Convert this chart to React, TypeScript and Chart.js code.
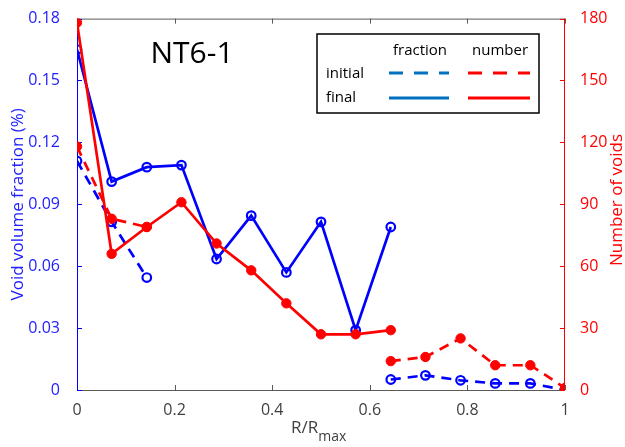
import React, { useEffect, useRef } from "react";
import { Chart, registerables } from "chart.js";

Chart.register(...registerables);

// R/Rmax positions
const rPos = [0, 0.071, 0.143, 0.214, 0.286, 0.357, 0.429, 0.5, 0.571, 0.643, 0.714, 0.786, 0.857, 0.929, 1];

// Void volume fraction (%)
const fractionFinal = [0.165, 0.101, 0.108, 0.109, 0.0635, 0.0845, 0.057, 0.0815, 0.029, 0.079, null, null, null, null, null];
const fractionInitial = [0.111, 0.0815, 0.0545, null, null, null, null, null, null, 0.0051, 0.0071, 0.0047, 0.0032, 0.0032, 0.0];

// Number of voids
const numberFinal = [178, 66, 79, 91, 71, 58, 42, 27, 27, 29, null, null, null, null, null];
const numberInitial = [118, 83, 79, null, null, null, null, null, null, 14, 16, 25, 12, 12, 1];

// Tick values
const xTicks = [0, 0.2, 0.4, 0.6, 0.8, 1];
const fractionTicks = [0, 0.03, 0.06, 0.09, 0.12, 0.15, 0.18];
const numberTicks = [0, 30, 60, 90, 120, 150, 180];

const BLUE = "#0000ff";
const BLUE_TXT = "#2020ff";
const RED = "#ff0000";
const LEGEND_BLUE = "#0070c0";
const FONT = "'Open Sans', sans-serif";

const toPts = (ys: (number | null)[]) => rPos.map((x, i) => ({ x, y: ys[i] }));

const overlay = {
  id: "overlay",
  beforeDatasetsDraw(chart: any) {
    const { ctx, chartArea, scales } = chart;
    const { left, right, top, bottom } = chartArea;
    ctx.save();
    ctx.lineWidth = 1;
    ctx.strokeStyle = "#5a5a5a";
    ctx.beginPath();
    ctx.moveTo(left, bottom + 0.5);
    ctx.lineTo(right, bottom + 0.5);
    ctx.moveTo(left, top + 0.5);
    ctx.lineTo(right, top + 0.5);
    for (const v of xTicks) {
      const px = Math.round(scales.x.getPixelForValue(v)) + 0.5;
      ctx.moveTo(px, bottom);
      ctx.lineTo(px, bottom - 5);
      ctx.moveTo(px, top);
      ctx.lineTo(px, top + 5);
    }
    ctx.stroke();
    ctx.strokeStyle = BLUE;
    ctx.beginPath();
    ctx.moveTo(left + 0.5, top);
    ctx.lineTo(left + 0.5, bottom);
    for (const v of fractionTicks) {
      const py = Math.round(scales.y.getPixelForValue(v)) + 0.5;
      ctx.moveTo(left, py);
      ctx.lineTo(left + 5, py);
    }
    ctx.stroke();
    ctx.strokeStyle = RED;
    ctx.beginPath();
    ctx.moveTo(right - 0.5, top);
    ctx.lineTo(right - 0.5, bottom);
    for (const v of numberTicks) {
      const py = Math.round(scales.y1.getPixelForValue(v)) + 0.5;
      ctx.moveTo(right, py);
      ctx.lineTo(right - 5, py);
    }
    ctx.stroke();
    ctx.restore();
  },
  afterDraw(chart: any) {
    const { ctx } = chart;
    ctx.save();
    ctx.fillStyle = "#000";
    ctx.font = `30px ${FONT}`;
    ctx.textAlign = "center";
    ctx.textBaseline = "alphabetic";
    ctx.fillText("NT6-1", 192, 63);

    ctx.fillStyle = "#fff";
    ctx.fillRect(317, 34, 222, 79);
    ctx.strokeStyle = "#000";
    ctx.lineWidth = 1.5;
    ctx.strokeRect(317, 34, 222, 79);
    ctx.fillStyle = "#000";
    ctx.font = `15px ${FONT}`;
    ctx.textBaseline = "middle";
    ctx.textAlign = "center";
    ctx.fillText("fraction", 420, 51);
    ctx.fillText("number", 500, 51);
    ctx.textAlign = "left";
    ctx.fillText("initial", 326, 74);
    ctx.fillText("final", 326, 98);
    ctx.lineWidth = 3;
    const seg = (x1: number, x2: number, y: number, c: string, dash: number[]) => {
      ctx.strokeStyle = c;
      ctx.setLineDash(dash);
      ctx.beginPath();
      ctx.moveTo(x1, y);
      ctx.lineTo(x2, y);
      ctx.stroke();
    };
    seg(389, 449, 73, LEGEND_BLUE, [14, 11]);
    seg(468, 530, 73, RED, [14, 11]);
    seg(389, 449, 98, LEGEND_BLUE, []);
    seg(468, 530, 98, RED, []);
    ctx.setLineDash([]);

    ctx.fillStyle = "#404040";
    ctx.textAlign = "left";
    ctx.textBaseline = "alphabetic";
    ctx.font = `17px ${FONT}`;
    const main = "R/R";
    ctx.fillText(main, 291, 433);
    const w = ctx.measureText(main).width;
    ctx.font = `14px ${FONT}`;
    ctx.fillText("max", 291 + w, 441);

    ctx.translate(617, 200);
    ctx.rotate(-Math.PI / 2);
    ctx.fillStyle = RED;
    ctx.font = `17px ${FONT}`;
    ctx.textAlign = "center";
    ctx.textBaseline = "middle";
    ctx.fillText("Number of voids", 0, 0);
    ctx.restore();
  },
};

export default function App() {
  const ref = useRef<HTMLCanvasElement | null>(null);
  useEffect(() => {
    if (!ref.current) return;
    const chart = new Chart(ref.current, {
      type: "line",
      data: {
        datasets: [
          {
            label: "number final",
            data: toPts(numberFinal),
            yAxisID: "y1",
            borderColor: RED,
            backgroundColor: RED,
            borderWidth: 2.7,
            pointRadius: 4.7,
            pointBorderWidth: 1,
            pointBackgroundColor: RED,
            pointBorderColor: RED,
            order: 0,
          },
          {
            label: "number initial",
            data: toPts(numberInitial),
            yAxisID: "y1",
            borderColor: RED,
            backgroundColor: RED,
            borderWidth: 2.7,
            borderDash: [10, 7],
            pointRadius: 4.7,
            pointBorderWidth: 1,
            pointBackgroundColor: RED,
            pointBorderColor: RED,
            order: 0,
          },
          {
            label: "fraction final",
            data: toPts(fractionFinal),
            yAxisID: "y",
            borderColor: BLUE,
            backgroundColor: "transparent",
            borderWidth: 2.7,
            pointRadius: 4.3,
            pointBorderWidth: 2.2,
            pointBackgroundColor: "rgba(255,255,255,0)",
            pointBorderColor: BLUE,
            order: 1,
          },
          {
            label: "fraction initial",
            data: toPts(fractionInitial),
            yAxisID: "y",
            borderColor: BLUE,
            backgroundColor: "transparent",
            borderWidth: 2.7,
            borderDash: [10, 7],
            pointRadius: 4.3,
            pointBorderWidth: 2.2,
            pointBackgroundColor: "rgba(255,255,255,0)",
            pointBorderColor: BLUE,
            order: 1,
          },
        ],
      },
      options: {
        responsive: false,
        animation: false,
        devicePixelRatio: 1,
        spanGaps: false,
        layout: { padding: { top: 10, left: 0, right: 0, bottom: 0 } },
        plugins: { legend: { display: false }, tooltip: { enabled: false } },
        elements: { line: { tension: 0 } },
        scales: {
          x: {
            type: "linear",
            min: 0,
            max: 1,
            grid: { display: false },
            border: { display: false },
            afterBuildTicks: (s: any) => {
              s.ticks = xTicks.map((v) => ({ value: v }));
            },
            afterFit: (s: any) => {
              s.height = 57;
            },
            ticks: {
              color: "#404040",
              font: { family: FONT, size: 16 },
              padding: 3,
              maxRotation: 0,
              callback: (v: any) => (v === 0 ? "0" : v === 1 ? "1" : Number(v).toFixed(1)),
            },
          },
          y: {
            type: "linear",
            position: "left",
            min: 0,
            max: 0.18,
            grid: { display: false },
            border: { display: false },
            afterBuildTicks: (s: any) => {
              s.ticks = fractionTicks.map((v) => ({ value: v }));
            },
            afterFit: (s: any) => {
              s.width = 77;
            },
            ticks: {
              color: BLUE_TXT,
              font: { family: FONT, size: 16 },
              padding: 9,
              callback: (v: any) => (v === 0 ? "0" : Number(v).toFixed(2)),
            },
            title: {
              display: true,
              text: "Void volume fraction (%)",
              color: BLUE_TXT,
              font: { family: FONT, size: 17 },
              padding: { top: 8, bottom: 0 },
            },
          },
          y1: {
            type: "linear",
            position: "right",
            min: 0,
            max: 180,
            grid: { display: false },
            border: { display: false },
            afterBuildTicks: (s: any) => {
              s.ticks = numberTicks.map((v) => ({ value: v }));
            },
            afterFit: (s: any) => {
              s.width = 60;
            },
            ticks: {
              color: RED,
              font: { family: FONT, size: 16 },
              padding: 7,
              callback: (v: any) => String(v),
            },
          },
        },
      },
      plugins: [overlay],
    });
    return () => chart.destroy();
  }, []);
  return (
    <div style={{ position: "absolute", left: 0, top: 0, width: 625, height: 447, background: "#fff" }}>
      <canvas ref={ref} width={625} height={447} style={{ display: "block" }} />
    </div>
  );
}
